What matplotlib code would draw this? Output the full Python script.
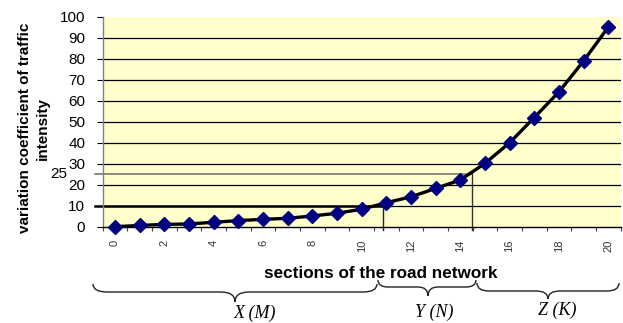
import matplotlib
matplotlib.use("Agg")
import matplotlib.pyplot as plt
import numpy as np
from matplotlib.path import Path
from matplotlib.patches import PathPatch

# ---- data ----
sections = list(range(21))
coef = [0, 0.6, 1.1, 1.3, 2.1, 2.9, 3.5, 4.0, 5.1, 6.4, 8.3, 11.4, 14.2, 18.2,
        22.2, 30.1, 39.9, 51.9, 64.1, 78.8, 94.9]
y_ticks = list(range(0, 101, 10))
x_tick_labels = [str(v) for v in range(0, 21, 2)]
ref_levels = [10, 25]
ref_bounds = [10.87, 14.48]
zone_labels = ["X (M)", "Y (N)", "Z (K)"]

W, H = 623, 323
fig = plt.figure(figsize=(W / 100, H / 100), dpi=100)
ax = fig.add_axes([102.7 / W, 1 - 226.7 / H, (620.5 - 102.7) / W, (226.7 - 16.5) / H])
ax.set_facecolor("#FFFFCC")

ax.set_xlim(-0.5, 20.5)
ax.set_ylim(0, 100)

# gridlines
for v in y_ticks[1:-1]:
    ax.axhline(v, color="black", lw=0.9, zorder=1)

# reference lines
ax.plot([-0.82, ref_bounds[0]], [ref_levels[0], ref_levels[0]], color="black", lw=1.8,
        clip_on=False, zorder=2)
ax.plot([ref_bounds[0], ref_bounds[0]], [-1.6, ref_levels[0]], color="#222222", lw=1.0,
        clip_on=False, zorder=2)
ax.plot([-0.82, ref_bounds[1]], [ref_levels[1], ref_levels[1]], color="#777777", lw=1.2,
        clip_on=False, zorder=2)
ax.plot([ref_bounds[1], ref_bounds[1]], [-1.6, ref_levels[1]], color="#333333", lw=1.0,
        clip_on=False, zorder=2)
ax.text(-1.95, ref_levels[1], str(ref_levels[1]), ha="right", va="center", fontsize=11,
        family="Liberation Sans", clip_on=False)

# data line
ax.plot(sections, coef, color="black", lw=2.4, zorder=3, clip_on=False)
ax.plot(sections, coef, linestyle="none", marker="D", markersize=7, color="#000080",
        markeredgecolor="#000080", zorder=4, clip_on=False)

# axes styling
for s in ["top", "right"]:
    ax.spines[s].set_visible(False)
ax.spines["left"].set_color("#808080")
ax.spines["left"].set_linewidth(1.0)
ax.spines["bottom"].set_color("black")
ax.spines["bottom"].set_linewidth(1.0)

ax.set_yticks(y_ticks)
ax.set_yticklabels([str(v) for v in y_ticks], fontsize=11, family="Liberation Sans")
ax.tick_params(axis="y", direction="out", length=4.5, width=0.8, pad=8, color="black")

ax.set_xticks(range(0, 21, 2))
ax.set_xticklabels(x_tick_labels, rotation=90, fontsize=8, family="Liberation Sans",
                   color="#333333")
ax.set_xticks(np.arange(-0.5, 21, 1), minor=True)
ax.tick_params(axis="x", which="major", length=0, pad=9.5)
ax.tick_params(axis="x", which="minor", direction="out", length=3, width=0.8, color="#444444")

# axis labels
fig.text(34 / W, 1 - 128 / H, "variation coefficient of traffic\nintensity", rotation=90,
         ha="center", va="center", multialignment="center", fontsize=11, fontweight="bold",
         family="Liberation Sans", linespacing=1.3)
fig.text(381 / W, 1 - 274 / H, "sections of the road network", ha="center", va="center",
         fontsize=12.3, fontweight="bold", family="Liberation Sans")


def brace(x0, x1, xm, y_end, y_flat, y_tip, r):
    pts = [(x0, y_end), (x0, y_flat), (x0 + r, y_flat),
           (xm - r, y_flat),
           (xm, y_flat), (xm, y_tip),
           (xm, y_flat), (xm + r, y_flat),
           (x1 - r, y_flat),
           (x1, y_flat), (x1, y_end)]
    codes = [Path.MOVETO, Path.CURVE3, Path.CURVE3, Path.LINETO,
             Path.CURVE3, Path.CURVE3, Path.CURVE3, Path.CURVE3,
             Path.LINETO, Path.CURVE3, Path.CURVE3]
    pts = [(x / W, 1 - y / H) for x, y in pts]
    patch = PathPatch(Path(pts, codes), fill=False, lw=1.0, edgecolor="#222222",
                      transform=fig.transFigure)
    fig.add_artist(patch)


brace(93, 377, 235, 284, 292, 302, 14)
brace(378, 476, 428, 280, 287, 296, 10)
brace(477, 619, 548, 283, 291, 299, 12)

for txt, x, y in zip(zone_labels, [255, 434, 557], [313, 312, 310]):
    fig.text(x / W, 1 - y / H, txt, ha="center", va="center", fontsize=13,
             family="Liberation Serif", style="italic")

fig.savefig("out.png", dpi=100)
